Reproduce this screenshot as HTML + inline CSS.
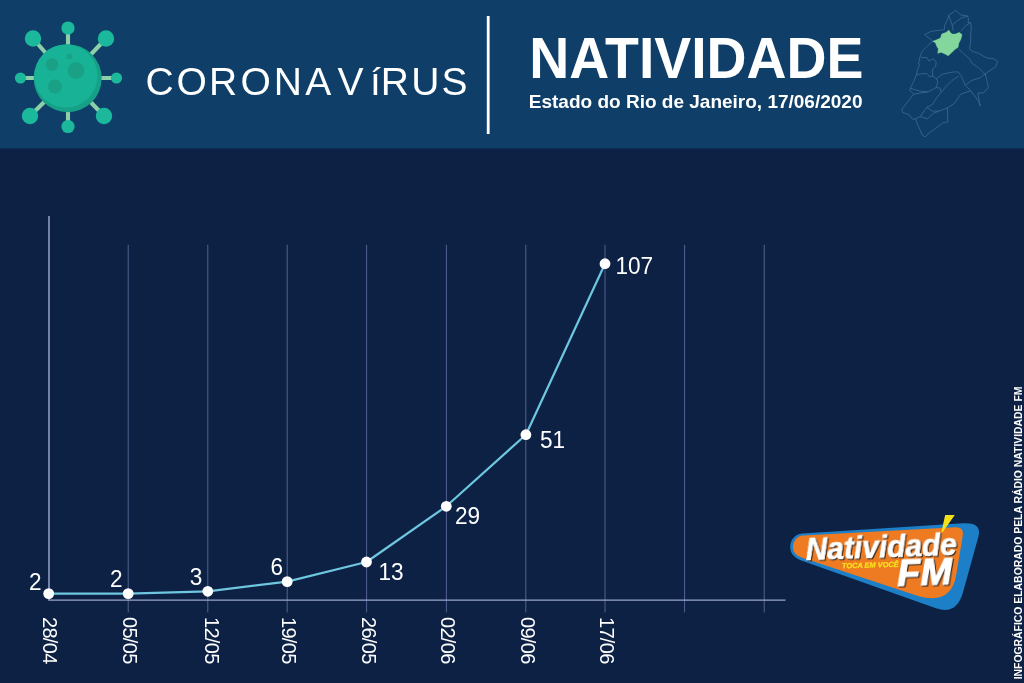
<!DOCTYPE html>
<html lang="pt-BR">
<head>
<meta charset="utf-8">
<title>Coronavírus - Natividade</title>
<style>
html,body{margin:0;padding:0;background:#0d2145;}
body{width:1024px;height:683px;overflow:hidden;font-family:"Liberation Sans",sans-serif;}
svg{display:block;}
text{font-family:"Liberation Sans",sans-serif;}
</style>
</head>
<body>
<svg width="1024" height="683" viewBox="0 0 1024 683">
  <!-- backgrounds -->
  <rect x="0" y="0" width="1024" height="683" fill="#0d2145"/>
  <rect x="0" y="0" width="1024" height="148.5" fill="#0f3f68"/>

  <!-- virus icon -->
  <g id="virus">
    <g stroke="#8bd0a8" stroke-width="4.1" stroke-linecap="butt">
      <line x1="68" y1="78.5" x2="68" y2="28"/>
      <line x1="68" y1="78.5" x2="68" y2="126.5"/>
      <line x1="68" y1="78" x2="20.5" y2="78"/>
      <line x1="68" y1="78" x2="116.5" y2="78"/>
      <line x1="68" y1="78.5" x2="33" y2="38.5"/>
      <line x1="68" y1="78.5" x2="106" y2="38.5"/>
      <line x1="68" y1="78.5" x2="30" y2="116"/>
      <line x1="68" y1="78.5" x2="104" y2="116"/>
    </g>
    <g fill="#1cb89c">
      <circle cx="68" cy="28" r="6.6"/>
      <circle cx="68" cy="126.5" r="6.6"/>
      <circle cx="20.5" cy="78" r="5.6"/>
      <circle cx="116.5" cy="78" r="5.6"/>
      <circle cx="33" cy="38.5" r="8.2"/>
      <circle cx="106" cy="38.5" r="8.2"/>
      <circle cx="30" cy="116" r="8.2"/>
      <circle cx="104" cy="116" r="8.2"/>
    </g>
    <circle cx="67.7" cy="78.2" r="34" fill="#16a088"/>
    <circle cx="65.9" cy="76" r="31.6" fill="#18b296"/>
    <g fill="#1aa185">
      <circle cx="52" cy="64.5" r="6.3"/>
      <circle cx="76" cy="70.5" r="8.4"/>
      <circle cx="55" cy="86.5" r="7"/>
      <circle cx="69.5" cy="56.5" r="2.8"/>
    </g>
  </g>

  <!-- header text -->
  <text x="145.6 176.4 209 240.4 273.7 305.3 337.6 370 380.8 411.2 441.5" y="95.2" font-size="39" fill="#ffffff" style="font-kerning:none">CORONAVíRUS</text>
  <rect x="486.8" y="16" width="2.8" height="118" fill="#ffffff"/>
  <text transform="translate(529.2,77.7) scale(1,1.03)" font-size="55.4" font-weight="bold" fill="#ffffff">NATIVIDADE</text>
  <text x="528.8" y="107.7" font-size="19" font-weight="bold" fill="#ffffff">Estado do Rio de Janeiro, 17/06/2020</text>

  <!-- map -->
  <g id="map" fill="none" stroke="#42709a" stroke-width="0.7" stroke-linejoin="round">
    <path d="M955.4,10.5 L960.9,14.9 L967.5,16.0 L968.6,19.3 L968.0,22.6 L970.7,22.6 L971.3,27.0 L970.7,34.6 L970.7,41.2 L969.7,48.9 L971.8,51.1 L978.4,53.3 L986.1,57.7 L993.8,58.8 L997.6,61.5 L996.0,66.5 L985.0,73.8 L986.7,79.3 L988.3,87.5 L983.4,93.0 L977.9,93.0 L980.1,106.2 L979.0,102.3 L976.2,97.9 L970.7,90.8 L960.9,94.1 L954.3,103.4 L947.5,107.8 L947.7,122.1 L943.3,122.6 L938.9,125.9 L929.0,133.1 L925.2,136.9 L922.4,135.3 L918.6,126.5 L915.3,118.8 L912.6,119.3 L909.3,115.0 L902.1,112.2 L902.1,108.9 L908.2,101.2 L913.7,94.1 L909.8,90.2 L910.4,88.1 L913.7,81.5 L916.4,74.9 L917.5,69.4 L919.7,65.0 L918.6,64.3 L919.7,57.7 L922.4,51.1 L927.9,45.6 L932.9,41.2 L924.6,34.6 L931.2,31.3 L944.4,29.7 L944.4,25.9 L947.7,19.3 L948.8,14.9 L952.1,13.2 Z M948.8,15.4 L952.1,24.8 L956.5,21.5 L960.9,18.2 L967.5,16.0 M952.1,24.8 L953.2,30.8 M960.9,31.3 L965.3,25.9 L970.7,22.6 M958.7,48.9 L963.1,53.3 L969.7,58.8 L971.8,63.2 L978.4,67.6 L986.1,75.3 M920.8,57.7 L926.8,57.5 L929.0,61.0 L933.4,58.8 L936.2,62.1 L935.6,66.5 L932.9,68.7 L932.3,70.9 L932.3,70.5 L932.9,76.0 M916.4,74.9 L920.8,73.8 L926.8,73.6 L930.1,77.1 L932.9,76.0 L936.2,78.7 L937.8,81.5 L936.2,87.5 L927.9,91.9 L920.8,91.3 L914.8,89.7 L910.4,88.1 M936.2,78.7 L942.2,74.3 L952.1,72.1 L958.1,71.8 L960.9,75.4 L965.3,85.3 L970.7,90.8 M965.3,85.3 L971.8,80.4 L980.6,77.6 L985.0,73.8 M936.2,87.5 L940.0,88.1 L941.1,92.4 L936.7,97.9 L932.3,104.5 L926.8,107.3 L920.2,116.6 L915.3,118.8 M913.7,94.1 L927.9,91.9 M941.1,92.4 L945.5,87.0 L952.1,80.4 L958.7,76.0 M926.8,107.3 L932.3,111.1 L938.9,111.1 L947.5,107.8 M920.2,116.6 L927.4,118.8 L933.4,113.3 L938.9,111.1"/>
    <path d="M932.9,41.2 L936.2,40.1 L940.6,37.9 L941.7,34.1 L946.0,32.4 L948.8,30.2 L950.4,32.4 L952.1,34.1 L955.4,34.1 L959.2,32.4 L962.0,34.6 L960.9,39.0 L958.7,43.4 L958.1,47.3 L954.8,49.5 L951.5,52.8 L948.2,55.7 L945.0,53.9 L941.1,52.2 L937.8,53.3 L938.4,48.9 L936.7,46.2 L935.6,42.9 Z" fill="#84d79c" stroke="#84d79c" stroke-width="0.5"/>
  </g>

  <!-- chart grid -->
  <g stroke="#566192" stroke-width="1">
    <line x1="128.2" y1="244.8" x2="128.2" y2="612.4"/>
    <line x1="207.8" y1="244.8" x2="207.8" y2="612.4"/>
    <line x1="287.2" y1="244.8" x2="287.2" y2="612.4"/>
    <line x1="366.6" y1="244.8" x2="366.6" y2="612.4"/>
    <line x1="446.4" y1="244.8" x2="446.4" y2="612.4"/>
    <line x1="525.8" y1="244.8" x2="525.8" y2="612.4"/>
    <line x1="605" y1="244.8" x2="605" y2="612.4"/>
    <line x1="684.6" y1="244.8" x2="684.6" y2="612.4"/>
    <line x1="764.2" y1="244.8" x2="764.2" y2="612.4"/>
  </g>
  <line x1="49" y1="216" x2="49" y2="600" stroke="#8f9bc3" stroke-width="1.6"/>
  <line x1="48.2" y1="600.1" x2="785.5" y2="600.1" stroke="#9aa5cc" stroke-width="1.4"/>

  <!-- data line -->
  <polyline points="48.7,593.6 128.2,593.6 207.8,591.3 287.2,581.6 366.5,562 446.3,506.3 525.9,434.7 605,263.7" fill="none" stroke="#6ec7de" stroke-width="2.2" stroke-linejoin="round"/>
  <g fill="#ffffff">
    <circle cx="48.7" cy="593.6" r="5.4"/>
    <circle cx="128.2" cy="593.6" r="5.4"/>
    <circle cx="207.8" cy="591.3" r="5.4"/>
    <circle cx="287.2" cy="581.6" r="5.4"/>
    <circle cx="366.5" cy="562" r="5.4"/>
    <circle cx="446.3" cy="506.3" r="5.4"/>
    <circle cx="525.9" cy="434.7" r="5.4"/>
    <circle cx="605" cy="263.7" r="5.4"/>
  </g>

  <!-- value labels -->
  <g font-size="22.6" fill="#ffffff">
    <text transform="translate(29,590.4) scale(1,1.05)">2</text>
    <text transform="translate(110,586.9) scale(1,1.05)">2</text>
    <text transform="translate(189.7,585.4) scale(1,1.05)">3</text>
    <text transform="translate(270.6,574.6) scale(1,1.05)">6</text>
    <text transform="translate(378.5,580.4) scale(1,1.05)">13</text>
    <text transform="translate(455,523.5) scale(1,1.05)">29</text>
    <text transform="translate(540,447.6) scale(1,1.05)">51</text>
    <text transform="translate(615.5,273.5) scale(1,1.05)">107</text>
  </g>

  <!-- date labels -->
  <g font-size="20" fill="#ffffff" letter-spacing="-0.7">
    <text transform="translate(43.1,617) rotate(90)">28/04</text>
    <text transform="translate(123.1,617) rotate(90)">05/05</text>
    <text transform="translate(204.7,617) rotate(90)">12/05</text>
    <text transform="translate(282.1,617) rotate(90)">19/05</text>
    <text transform="translate(361.5,617) rotate(90)">26/05</text>
    <text transform="translate(441.2,617) rotate(90)">02/06</text>
    <text transform="translate(520.7,617) rotate(90)">09/06</text>
    <text transform="translate(599.7,617) rotate(90)">17/06</text>
  </g>

  <!-- logo -->
  <g id="logo">
    <path d="M802.0,533.6 L963.0,523.3 Q982.5,522.0 978.3,537.0 L963.1,592.0 Q956.6,615.6 936.0,608.2 L802.0,560.7 C795.5,558.4 790.2,554.5 790.2,547.0 C790.2,539.7 795.5,534.1 802.0,533.6 Z" fill="#1c7fc7"/>
    <path d="M803.0,535.6 L955.0,527.2 Q964.2,526.7 962.8,535.5 L956.2,575.0 Q950.9,606.8 915.0,595.0 L803.0,558.1 C797.5,556.3 793.0,553.3 793.0,547.3 C793.0,540.9 797.5,535.9 803.0,535.6 Z" fill="#ee7a21"/>
    <path d="M945.2,515.1 L954.8,515.1 L942.6,532.2 L941.5,531.6 Z" fill="#f3e21a"/>
    <g transform="translate(806.1,560.2) rotate(-2) scale(0.965,1)" font-size="31" font-weight="bold" font-style="italic" stroke-linejoin="round">
      <text x="0" y="0" fill="#ffffff" stroke="#ffffff" stroke-width="0.7" style="filter:drop-shadow(1.45px 1.3px 0 #2e2218)">Natividade</text>
    </g>
    <text transform="translate(842,568.3) rotate(-1.5)" font-size="7.4" font-weight="bold" font-style="italic" fill="#f7e11e" stroke="#f7e11e" stroke-width="0.25">TOCA EM VOCÊ</text>
    <g transform="translate(897.6,586) rotate(-2) scale(1.04,1)" font-size="36.5" font-weight="bold" font-style="italic" stroke-linejoin="round">
      <text x="0" y="0" fill="#ffffff" stroke="#ffffff" stroke-width="1.2" style="filter:drop-shadow(1.35px 1.4px 0 #2e2218)">FM</text>
    </g>
  </g>

  <!-- credit -->
  <text transform="translate(1022.3,679.3) rotate(-90) scale(0.946,1.04)" font-size="11" font-weight="bold" fill="#ffffff">INFOGRÁFICO ELABORADO PELA RÁDIO NATIVIDADE FM</text>
</svg>
</body>
</html>
